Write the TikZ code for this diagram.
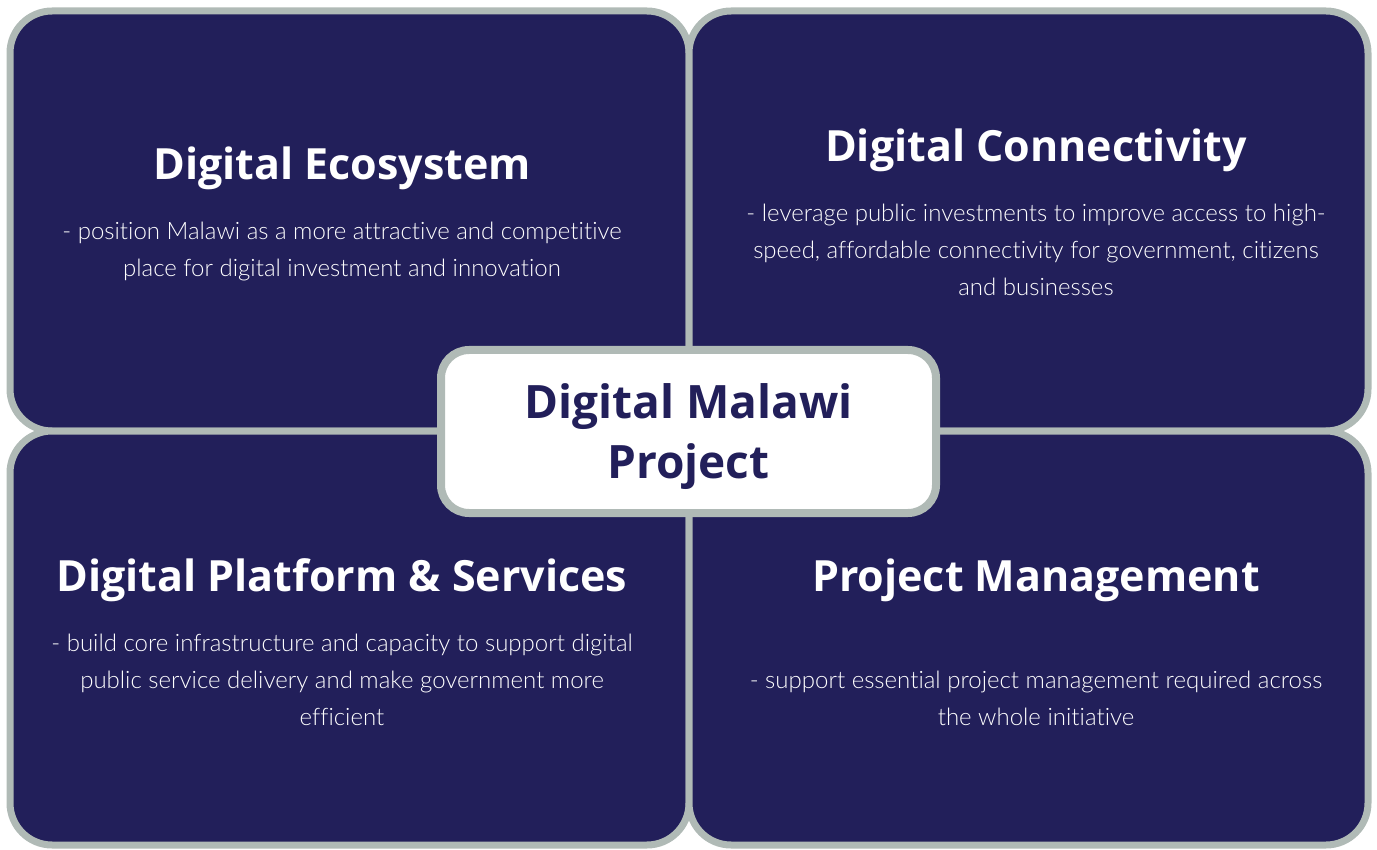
\documentclass[tikz,border=0pt]{standalone}
\usepackage{fontspec}
\setmainfont{Lato Light}[Ligatures=NoCommon]
\newfontfamily\headfont{Open Sans}
\usepackage{xcolor}
\usetikzlibrary{positioning}

\definecolor{navy}{RGB}{34,31,90}
\definecolor{rim}{RGB}{176,186,182}

\begin{document}
\begin{tikzpicture}[
    x=1pt, y=-1pt,
    quad/.style={rectangle, draw=rim, fill=navy, line width=7pt,
        rounded corners=42pt, minimum width=679pt, inner sep=0pt},
    hub/.style={rectangle, draw=rim, fill=white, line width=8pt,
        rounded corners=28pt, minimum width=495pt, minimum height=163pt,
        align=center, text=navy, font=\headfont\bfseries\fontsize{46}{60}\selectfont},
    heading/.style={text=white, inner sep=0pt, font=\headfont\bfseries\fontsize{43}{50}\selectfont},
    blurb/.style={text=white, inner sep=0pt, align=center, font=\fontsize{24}{37}\selectfont}
]
    \useasboundingbox (0,0) rectangle (1377,850);

    % the four work areas
    \node[quad, minimum height=420pt] (eco) at (349.5,221) {};
    \node[quad, minimum height=420pt] (conn) at (1028.5,221) {};
    \node[quad, minimum height=414pt] (platform) at (349.5,638) {};
    \node[quad, minimum height=414pt] (mgmt) at (1028.5,638) {};

    \node[heading] (ecoT) at (342,168) {Digital Ecosystem};
    \node[blurb] (ecoB) at (342,251) {- position Malawi as a more attractive and competitive\\place for digital investment and innovation};

    \node[heading] (connT) at (1036,150) {Digital Connectivity};
    \node[blurb] (connB) at (1036,250) {- leverage public investments to improve access to high-\\speed, affordable connectivity for government, citizens\\and businesses};

    \node[heading] (platformT) at (342,580) {Digital Platform \& Services};
    \node[blurb] (platformB) at (342,680) {- build core infrastructure and capacity to support digital\\public service delivery and make government more\\efficient};

    \node[heading] (mgmtT) at (1036,580) {Project Management};
    \node[blurb] (mgmtB) at (1036,698) {- support essential project management required across\\the whole initiative};

    % project in the middle
    \node[hub, text depth=0pt] (project) at (688.5,431.5) {Digital Malawi\\Project};
\end{tikzpicture}
\end{document}
